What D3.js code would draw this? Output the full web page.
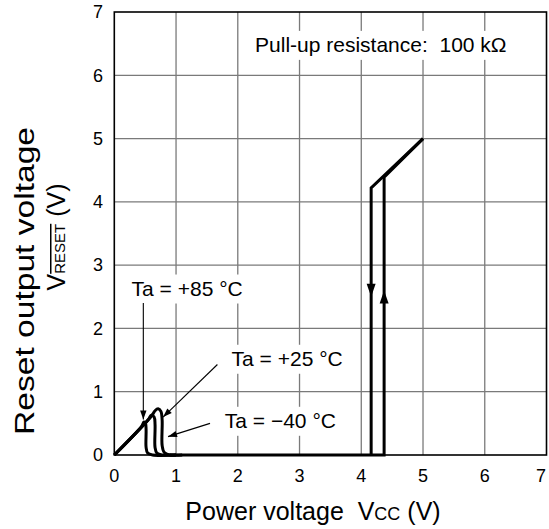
<!DOCTYPE html>
<html><head><meta charset="utf-8">
<script src="https://cdn.jsdelivr.net/npm/d3@7/dist/d3.min.js"></script>
<style>body{margin:0;background:#fff}svg{display:block;font-family:Arial,"Liberation Sans",sans-serif}text{white-space:pre}</style>
</head><body><svg id="c" width="549" height="529"></svg>
<script>
const xTicks = [0,1,2,3,4,5,6,7];
const yTicks = [0,1,2,3,4,5,6,7];
// low-voltage curves (Vcc, Vreset)
const curve85 = [[0,0],[0.44,0.45],[0.48,0.52],[0.505,0.5],[0.515,0.4],[0.515,0.12],[0.54,0.03],[0.62,0],[1.0,0]];
const curve25 = [[0,0],[0.55,0.56],[0.6,0.63],[0.645,0.6],[0.66,0.48],[0.66,0.12],[0.69,0.03],[0.78,0],[1.0,0]];
const curveM40 = [[0,0],[0.6,0.61],[0.66,0.7],[0.71,0.73],[0.755,0.69],[0.775,0.55],[0.775,0.15],[0.81,0.04],[0.92,0],[1.1,0]];
// hysteresis
const powerUp = [[0.9,0],[4.37,0],[4.37,4.39],[5,5]];
const powerDown = [[5,5],[4.16,4.22],[4.16,0]];
const upArrow = [4.37,2.6];
const downArrow = [4.16,2.5];
// annotations
const labels = [
  {text:"Pull-up resistance:  100 k\u03A9", x:2.28, y:6.37, size:21},
  {text:"Ta = +85 \u00B0C", x:0.28, y:2.52, size:21},
  {text:"Ta = +25 \u00B0C", x:1.9, y:1.41, size:21},
  {text:"Ta = \u221240 \u00B0C", x:1.79, y:0.43, size:21}
];
const leaders = [
  {from:[0.47,2.4], to:[0.47,0.56]},
  {from:[1.67,1.43], to:[0.79,0.6]},
  {from:[1.55,0.5], to:[0.87,0.29]}
];

const svg = d3.select("#c");
const x = d3.scaleLinear().domain([0,7]).range([114.3,546.5]);
const y = d3.scaleLinear().domain([0,7]).range([455,12]);

// grid
svg.append("g").selectAll("line").data(xTicks.slice(1,-1)).join("line")
  .attr("x1",d=>x(d)).attr("x2",d=>x(d)).attr("y1",y(0)).attr("y2",y(7))
  .attr("stroke","#7a7a7a").attr("stroke-width",1.3);
svg.append("g").selectAll("line").data(yTicks.slice(1,-1)).join("line")
  .attr("y1",d=>y(d)).attr("y2",d=>y(d)).attr("x1",x(0)).attr("x2",x(7))
  .attr("stroke","#7a7a7a").attr("stroke-width",1.3);

// label backgrounds + text
const lg = svg.append("g");
labels.forEach(l=>{
  const t = lg.append("text").attr("x",x(l.x)).attr("y",y(l.y)).attr("font-size",l.size).attr("fill","#000").text(l.text);
  const b = t.node().getBBox();
  lg.insert("rect","text").attr("x",b.x-5).attr("y",b.y-2).attr("width",b.width+10).attr("height",b.height+6).attr("fill","#fff");
});

// frame
svg.append("rect").attr("x",x(0)).attr("y",y(7)).attr("width",x(7)-x(0)).attr("height",y(0)-y(7))
  .attr("fill","none").attr("stroke","#000").attr("stroke-width",1.6);

// leaders
function arrowHead(g, tip, from, len, half){
  const dx = tip[0]-from[0], dy = tip[1]-from[1];
  const L = Math.hypot(dx,dy), ux=dx/L, uy=dy/L;
  const bx = tip[0]-ux*len, by = tip[1]-uy*len;
  g.append("path").attr("d",`M${tip[0]},${tip[1]}L${bx-uy*half},${by+ux*half}L${bx+uy*half},${by-ux*half}Z`).attr("fill","#000");
}
const ldr = svg.append("g");
leaders.forEach(l=>{
  const a=[x(l.from[0]),y(l.from[1])], b=[x(l.to[0]),y(l.to[1])];
  ldr.append("line").attr("x1",a[0]).attr("y1",a[1]).attr("x2",b[0]).attr("y2",b[1]).attr("stroke","#000").attr("stroke-width",1.1);
  arrowHead(ldr,b,a,9,3.2);
});

// curves
const lineC = d3.line().x(d=>x(d[0])).y(d=>y(d[1])).curve(d3.curveCatmullRom.alpha(0.5));
const lineL = d3.line().x(d=>x(d[0])).y(d=>y(d[1]));
const cg = svg.append("g").attr("fill","none").attr("stroke","#000").attr("stroke-width",3).attr("stroke-linejoin","miter");
[curve85,curve25,curveM40].forEach(c=>cg.append("path").attr("d",lineC(c)));
cg.append("path").attr("d",lineL(powerUp));
cg.append("path").attr("d",lineL(powerDown));
// direction arrows
function tri(px,py,dir){
  const h=13, w=4.5;
  svg.append("path").attr("d",`M${px},${py}L${px-w},${py-dir*h}L${px+w},${py-dir*h}Z`).attr("fill","#000");
}
tri(x(upArrow[0]),y(upArrow[1]),-1);
tri(x(downArrow[0]),y(downArrow[1]),1);

// tick labels
svg.append("g").selectAll("text").data(xTicks).join("text")
  .attr("x",d=>Math.min(x(d),541)).attr("y",482).attr("text-anchor","middle").attr("font-size",18).text(d=>d);
svg.append("g").selectAll("text").data(yTicks).join("text")
  .attr("x",103).attr("y",d=>y(d)).attr("dy","0.35em").attr("text-anchor","end").attr("font-size",18).text(d=>d);

// axis titles
const xt = svg.append("text").attr("x",313).attr("y",520).attr("text-anchor","middle").attr("font-size",25);
xt.append("tspan").text("Power voltage  V");
xt.append("tspan").attr("font-size",18).text("CC");
xt.append("tspan").text(" (V)");

svg.append("text").attr("transform","translate(34,281) rotate(-90)").attr("text-anchor","middle")
  .attr("font-size",27).attr("textLength",308).attr("lengthAdjust","spacingAndGlyphs").text("Reset output voltage");
const yt = svg.append("text").attr("transform","translate(65,237) rotate(-90)").attr("text-anchor","middle").attr("font-size",25);
yt.append("tspan").text("V");
yt.append("tspan").attr("font-size",15).attr("text-decoration","overline").text("RESET");
yt.append("tspan").text(" (V)");
</script></body></html>
